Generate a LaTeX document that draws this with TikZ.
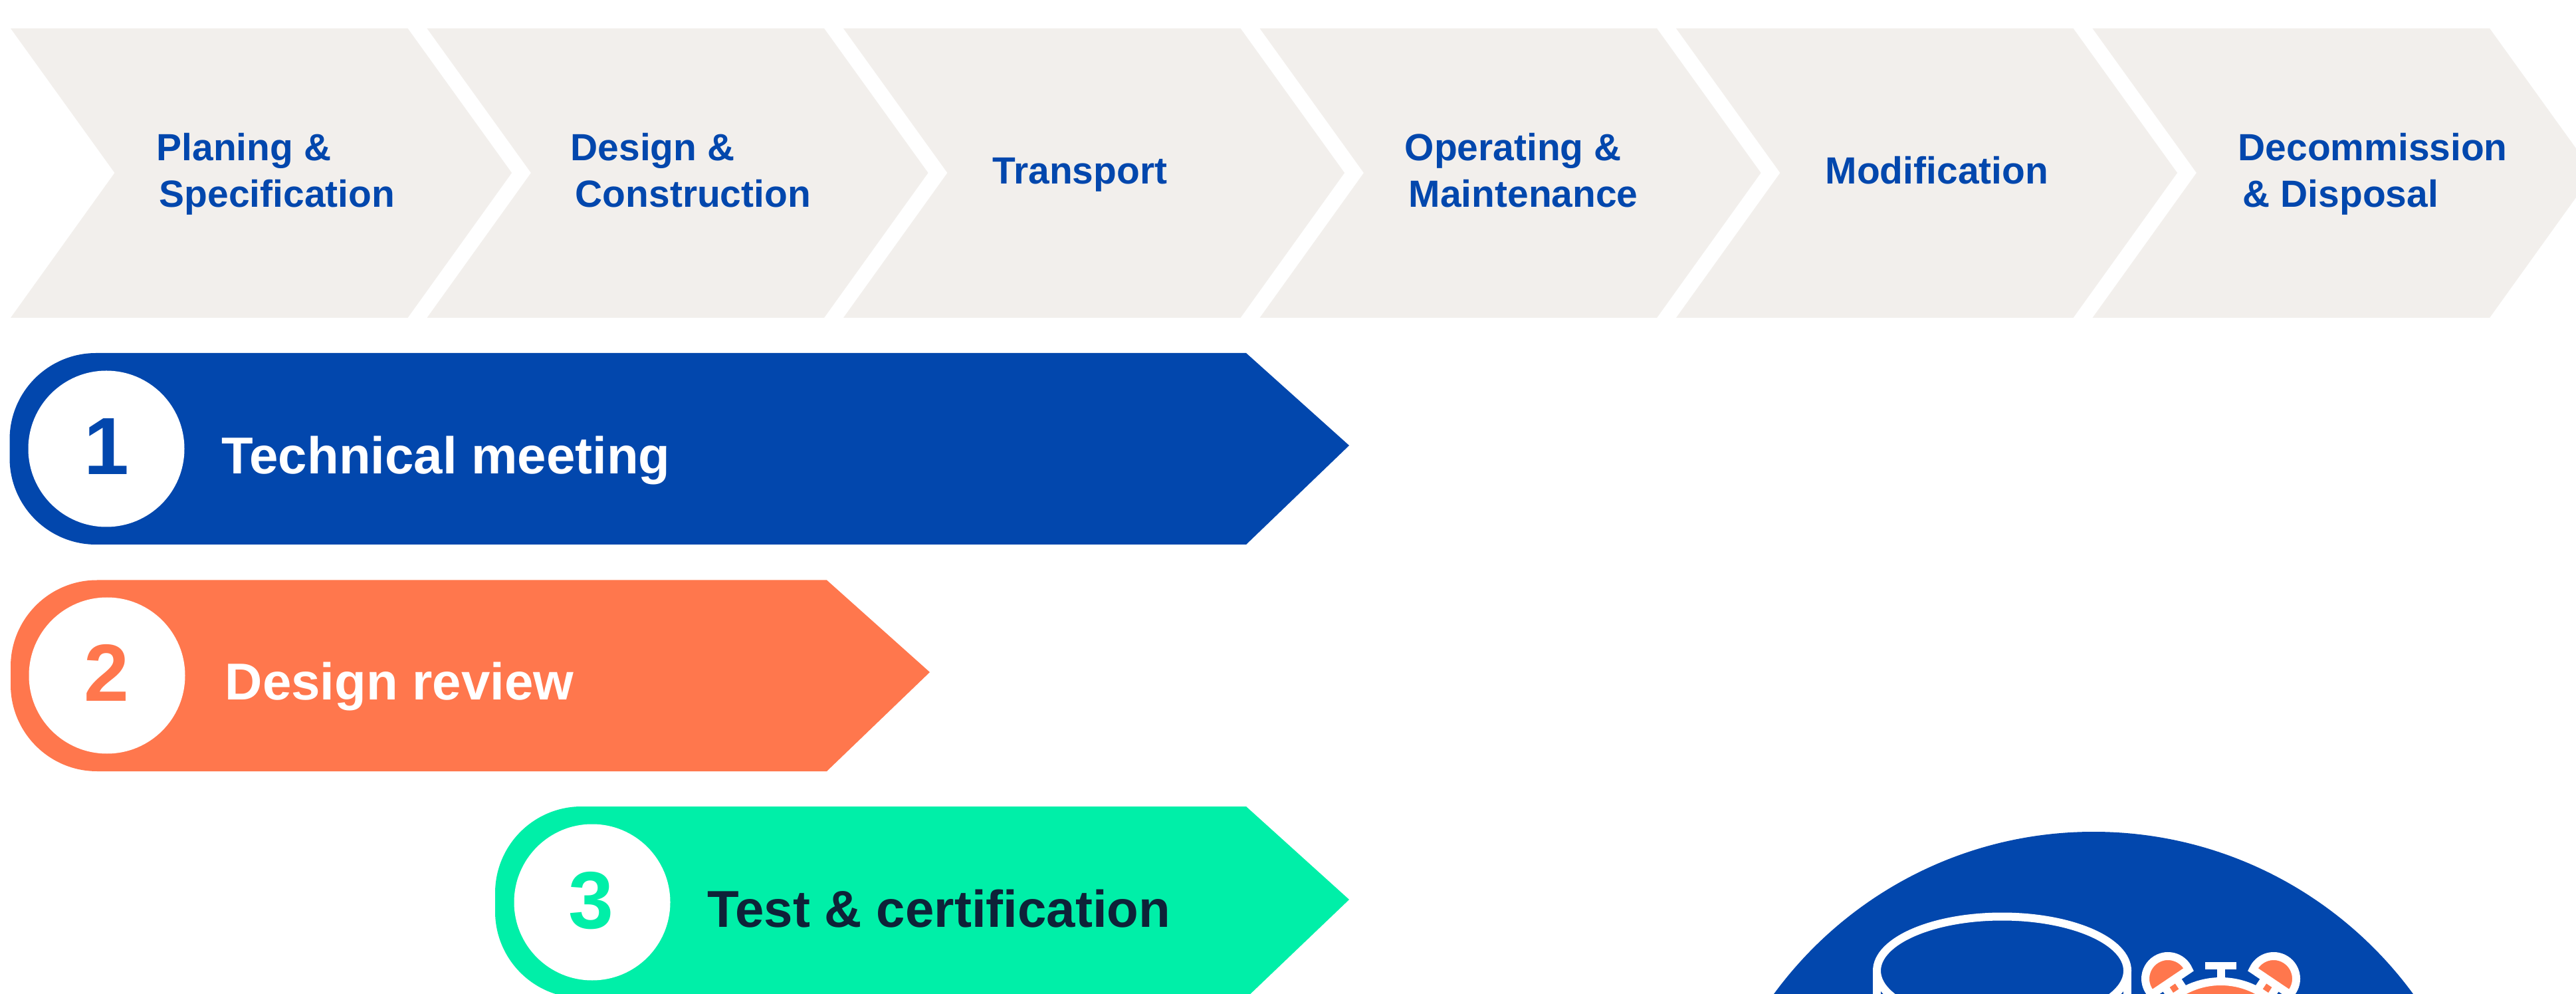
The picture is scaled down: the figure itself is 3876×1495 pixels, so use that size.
\documentclass[tikz,border=0pt]{standalone}
\usepackage{fontspec}
\setmainfont{Liberation Sans}
\definecolor{cblue}{HTML}{0247AD}
\definecolor{corange}{HTML}{FF774D}
\definecolor{cgreen}{HTML}{00EFA8}
\definecolor{cgray}{HTML}{F2EFEC}
\definecolor{cink}{HTML}{0E2238}
\tikzset{
  chevshape/.style={fill=cgray,draw=none},
  steptext/.style={anchor=base west,inner sep=0pt,text=cblue,font=\fontsize{16.2pt}{16.2pt}\selectfont\bfseries},
  bartext/.style={anchor=base west,inner sep=0pt,font=\fontsize{22.2pt}{22.2pt}\selectfont\bfseries},
  digittext/.style={anchor=base,inner sep=0pt,font=\fontsize{34.7pt}{34.7pt}\selectfont\bfseries},
  iconline/.style={draw=white,line width=12*0.1mm,miter limit=10},
}
% #1 left x
\newcommand{\chevron}[1]{%
  \path[chevshape] (#1,42.7) -- ++(597.5,0) -- ++(156.5,217.3) -- ++(-156.5,218) -- ++(-597.5,0) -- ++(156.5,-218) -- cycle;}
% #1 colour, #2 left, #3 top, #4 bottom, #5 shoulder, #6 tip x, #7 tip y
\newcommand{\tagbar}[7]{%
  \fill[#1] (#2+130,#3) -- (#5,#3) -- (#6,#7) -- (#5,#4) -- (#2+130,#4)
    arc[start angle=90,end angle=180,radius=130] -- (#2,#3+130)
    arc[start angle=180,end angle=270,radius=130] -- cycle;}
\newcommand{\clockear}{%
  \path[fill=white] (3276.1,1462.65) -- (3247.9,1481.35) -- (3261.65,1502.1) -- (3289.85,1483.4) -- cycle;
  \path[fill=corange] (3272.75,1479.2) -- (3264.45,1484.7) -- (3269.95,1493) -- (3278.25,1487.5) -- cycle;
  \path[iconline,fill=corange] ($(3262,1472)+(-23.8:34)$) arc[start angle=-23.8,end angle=-224.2,radius=34] -- cycle;}
\usetikzlibrary{calc}
\begin{document}
\begin{tikzpicture}[x=0.1mm,y=-0.1mm]
\path[use as bounding box,fill=white] (0,0) rectangle (3876,1495);
\clip (0,0) rectangle (3876,1495);
% process chevrons
\chevron{16}\chevron{642.5}\chevron{1269}\chevron{1895.5}\chevron{2522}\chevron{3148.5}
\node[steptext] (s1a) at (235,242) {Planing \&};
\node[steptext] (s1b) at (239,312) {Specification};
\node[steptext] (s2a) at (858,242) {Design \&};
\node[steptext] (s2b) at (865,312) {Construction};
\node[steptext] (s3) at (1493,277) {Transport};
\node[steptext] (s4a) at (2113,242) {Operating \&};
\node[steptext] (s4b) at (2119,312) {Maintenance};
\node[steptext] (s5) at (2746,277) {Modification};
\node[steptext] (s6a) at (3367,242) {Decommission};
\node[steptext] (s6b) at (3374,312) {\& Disposal};
% bars
\tagbar{cblue}{14.5}{531}{819}{1875}{2030}{670}
\tagbar{corange}{16}{872.5}{1160}{1244}{1399}{1011}
\tagbar{cgreen}{745}{1213}{1501}{1875}{2030}{1353}
\fill[white] (160,675) circle[radius=117.5];
\fill[white] (161,1016) circle[radius=117.5];
\fill[white] (891,1357) circle[radius=117.5];
\node[digittext,text=cblue] (d1) at (160,714) {1};
\node[digittext,text=corange] (d2) at (160,1055) {2};
\node[digittext,text=cgreen] (d3) at (889,1396) {3};
\node[bartext,text=white] (t1) at (333,713) {Technical meeting};
\node[bartext,text=white] (t2) at (338,1053) {Design review};
\node[bartext,text=cink] (t3) at (1064,1394) {Test \& certification};
% big circle
\fill[cblue] (3150,1847) circle[radius=596];
% tank
\draw[iconline] (2824,1460) -- (2824,1600);
\draw[iconline] (3201,1460) -- (3201,1600);
\draw[iconline] (3012.5,1460) ellipse[x radius=188.5,y radius=81.5];
% clock
\path[iconline,fill=corange] (3341.5,1592) circle[radius=116];
\fill[white] (3318,1447) rectangle (3365,1458);
\fill[white] (3335.5,1455) rectangle (3347.5,1472);
\clockear
\begin{scope}[shift={(6683,0)},xscale=-1]
\clockear
\end{scope}
\end{tikzpicture}
\end{document}
